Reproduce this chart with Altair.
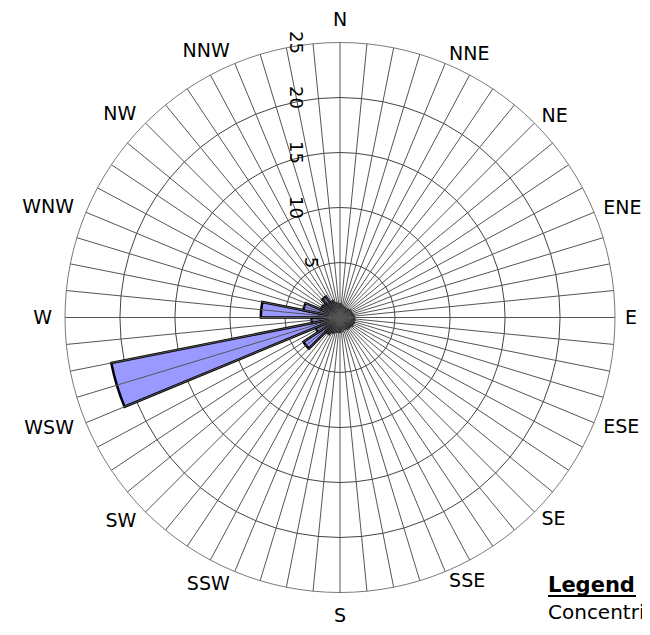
import math
import altair as alt
import pandas as pd

# ---------------- data ----------------
# 32 wind sectors of 11.25 degrees, starting at North and going clockwise
sector_values = [1.1, 1.0, 0.9, 0.9, 1.0, 1.1, 1.1, 1.2,
                 1.3, 1.3, 1.3, 1.2, 1.2, 1.1, 1.1, 1.2,
                 1.3, 1.3, 1.5, 1.8, 4.0, 2.4, 21.2, 2.6,
                 7.2, 3.4, 1.9, 1.8, 2.3, 1.6, 1.3, 1.2]
sector_width = 11.25
compass_labels = ["N", "NNE", "NE", "ENE", "E", "ESE", "SE", "SSE",
                  "S", "SSW", "SW", "WSW", "W", "WNW", "NW", "NNW"]
ring_values = [5, 10, 15, 20, 25]
spoke_step = 5.625
legend_title = "Legend"
legend_line = "Concentric circles represent"

# ---------------- geometry ----------------
W, H = 634, 619
CX, CY = 332, 309.5
RMAX_PX = 275.0
RMAX = 25.0
PPU = RMAX_PX / RMAX  # pixels per unit

xscale = alt.Scale(domain=[-CX / PPU, (W - CX) / PPU], range=[0, W], nice=False, zero=False)
yscale = alt.Scale(domain=[-(H - CY) / PPU, CY / PPU], range=[H, 0], nice=False, zero=False)
rscale = alt.Scale(type="linear", domain=[0, RMAX], range=[0, RMAX_PX], zero=True, nice=False)
tscale = alt.Scale(type="linear", domain=[0, 360], range=[0, 2 * math.pi], nice=False, zero=False)

FONT = "DejaVu Sans"

bars_df = pd.DataFrame({
    "start": [i * sector_width for i in range(len(sector_values))],
    "end": [(i + 1) * sector_width for i in range(len(sector_values))],
    "value": sector_values,
})
rings_df = pd.DataFrame({"r": ring_values})
spokes_df = pd.DataFrame({"a": [i * spoke_step for i in range(int(360 / spoke_step))]})
compass_df = pd.DataFrame({"label": compass_labels,
                           "a": [i * 22.5 for i in range(len(compass_labels))]})

# rings (under the bars)
rings = alt.Chart(rings_df).mark_arc(
    filled=False, strokeWidth=1, theta=0, theta2=2 * math.pi
).encode(
    radius=alt.Radius("r:Q", scale=rscale, stack=None),
    stroke=alt.condition(f"datum.r == {RMAX}", alt.value("#7a7a7a"), alt.value("#444444")),
    x=alt.value(CX), y=alt.value(CY),
)

# bars
bars = alt.Chart(bars_df).mark_arc(
    fill="#9999ff", stroke="black", strokeWidth=2.5, strokeJoin="miter"
).encode(
    theta=alt.Theta("start:Q", scale=tscale, stack=None),
    theta2=alt.Theta2("end:Q"),
    radius=alt.Radius("value:Q", scale=rscale, stack=None),
    x=alt.value(CX), y=alt.value(CY),
)

# spokes (drawn over the bars)
spokes = alt.Chart(spokes_df).transform_calculate(
    x0="0", y0="0",
    x1=f"{RMAX}*sin(datum.a*PI/180)",
    y1=f"{RMAX}*cos(datum.a*PI/180)",
).mark_rule(color="#555555", strokeWidth=1).encode(
    x=alt.X("x0:Q", scale=xscale, axis=None),
    y=alt.Y("y0:Q", scale=yscale, axis=None),
    x2="x1:Q", y2="y1:Q",
)

LR = 285.0 / PPU


def compass_layer(filt, align, baseline, rad):
    return alt.Chart(compass_df).transform_filter(filt).transform_calculate(
        lx=f"{rad}*sin(datum.a*PI/180)",
        ly=f"{rad}*cos(datum.a*PI/180)",
    ).mark_text(font=FONT, fontSize=19, align=align, baseline=baseline, color="black").encode(
        x=alt.X("lx:Q", scale=xscale, axis=None),
        y=alt.Y("ly:Q", scale=yscale, axis=None),
        text="label:N",
    )


lab_right = compass_layer("datum.a > 0 && datum.a < 180", "left", "middle", LR)
lab_left = compass_layer("datum.a > 180", "right", "middle", 288.0 / PPU)
lab_n = compass_layer("datum.a == 0", "center", "bottom", 288.0 / PPU)
lab_s = compass_layer("datum.a == 180", "center", "top", 289.0 / PPU)

ring_labels = alt.Chart(rings_df).transform_calculate(
    lx="-min(4.1, datum.r*0.55)", ly="datum.r", txt="'' + datum.r"
).mark_text(font=FONT, fontSize=18, angle=90, align="center", baseline="middle", color="black").encode(
    x=alt.X("lx:Q", scale=xscale, axis=None),
    y=alt.Y("ly:Q", scale=yscale, axis=None),
    text="txt:N",
)

legend_df = pd.DataFrame({"t": [legend_title]})
legend_t = alt.Chart(legend_df).mark_text(
    font=FONT, fontSize=21, fontWeight="bold", align="left", baseline="alphabetic", color="black"
).encode(x=alt.value(540), y=alt.value(584), text="t:N")
underline = alt.Chart(legend_df).mark_rule(color="black", strokeWidth=2).encode(
    x=alt.value(540), x2=alt.value(628), y=alt.value(588)
)
legend_df2 = pd.DataFrame({"t": [legend_line]})
legend_l = alt.Chart(legend_df2).mark_text(
    font=FONT, fontSize=20, align="left", baseline="alphabetic", color="black"
).encode(x=alt.value(540), y=alt.value(611), text="t:N")

chart = alt.layer(
    rings, bars, spokes, lab_right, lab_left, lab_n, lab_s, ring_labels,
    legend_t, underline, legend_l,
).properties(
    width=W, height=H, autosize=alt.AutoSizeParams(type="none"), padding=0
).configure_view(stroke=None)

chart.save("out.html", embed_options={"renderer": "svg", "actions": False})
